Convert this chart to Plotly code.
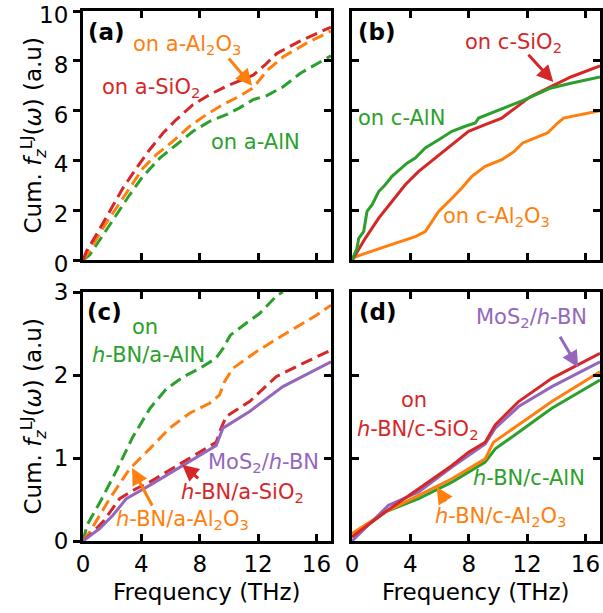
import plotly.graph_objects as go

# ---------------- data ----------------
# Panel (a): amorphous substrates (dashed)
a_sio2_f = [0, 0.23, 0.9, 1.83, 2.74, 3.66, 4.57, 5.49, 6.4, 7.54, 8.69, 9.83, 10.97, 11.66, 12.5, 13.3, 14.9, 16.0, 17.0]
a_sio2_v = [0, 0.34, 1.0, 1.95, 2.89, 3.69, 4.43, 5.1, 5.64, 6.24, 6.64, 6.98, 7.25, 7.42, 7.85, 8.3, 8.8, 9.1, 9.35]
a_al2o3_f = [0, 0.34, 1.37, 2.29, 3.2, 4.11, 5.03, 6.17, 7.31, 8.46, 9.6, 10.74, 11.66, 12.6, 13.7, 15.3, 17.0]
a_al2o3_v = [0, 0.27, 1.28, 2.08, 2.89, 3.69, 4.23, 4.77, 5.37, 5.84, 6.24, 6.58, 6.91, 7.6, 8.15, 8.7, 9.2]
a_aln_f = [0, 0.46, 1.37, 2.29, 3.2, 4.11, 5.26, 6.4, 7.54, 8.69, 9.83, 10.74, 11.66, 12.6, 13.7, 14.9, 17.0]
a_aln_v = [0, 0.2, 1.0, 1.81, 2.62, 3.36, 4.09, 4.63, 5.17, 5.57, 5.84, 6.11, 6.44, 6.6, 6.95, 7.5, 8.2]

# Panel (b): crystalline substrates (solid)
b_sio2_f = [0, 0.23, 0.91, 1.83, 2.74, 3.65, 4.57, 5.71, 6.85, 7.99, 9.13, 10.27, 11.3, 12.2, 13.6, 15.0, 17.0]
b_sio2_v = [0, 0.2, 0.87, 1.68, 2.35, 3.02, 3.56, 4.09, 4.63, 5.17, 5.44, 5.7, 6.15, 6.55, 6.95, 7.35, 7.8]
b_aln_f = [0, 0.34, 0.46, 0.8, 1.03, 1.37, 1.83, 2.28, 2.74, 3.42, 3.77, 4.34, 5.02, 5.94, 6.85, 7.76, 8.45, 8.68, 9.59, 10.27, 11.7, 13.6, 15.0, 17.0]
b_aln_v = [0, 0.47, 0.87, 1.14, 1.95, 2.21, 2.75, 3.02, 3.36, 3.69, 3.89, 4.09, 4.5, 4.83, 5.17, 5.37, 5.5, 5.7, 5.91, 6.04, 6.4, 6.9, 7.1, 7.35]
b_al2o3_f = [0, 0.23, 2.28, 4.34, 5.02, 5.48, 5.94, 6.85, 7.53, 8.22, 9.13, 10.27, 11.1, 11.7, 13.4, 14.1, 14.5, 17.0]
b_al2o3_v = [0, 0.13, 0.54, 0.94, 1.14, 1.54, 1.95, 2.48, 2.89, 3.36, 3.76, 4.03, 4.35, 4.7, 5.1, 5.5, 5.7, 6.0]

# Panel (c): MoS2 on h-BN on amorphous substrates
c_aln_f = [0, 0.3, 1.2, 2.3, 3.4, 4.6, 5.7, 6.9, 8.0, 9.1, 9.6, 10.1, 11.0, 12.1, 13.3, 13.7]
c_aln_v = [0, 0.2, 0.48, 0.85, 1.25, 1.6, 1.83, 1.98, 2.08, 2.2, 2.32, 2.48, 2.6, 2.74, 2.96, 3.0]
c_al2o3_f = [0, 0.46, 1.83, 3.2, 4.57, 5.94, 7.31, 8.68, 9.36, 9.7, 10.27, 11.87, 13.7, 16.0, 17.0]
c_al2o3_v = [0, 0.11, 0.51, 0.87, 1.11, 1.36, 1.54, 1.66, 1.76, 1.92, 2.08, 2.28, 2.48, 2.72, 2.84]
c_sio2_f = [0, 0.46, 1.37, 2.51, 3.42, 4.57, 5.71, 6.85, 7.99, 9.13, 9.47, 9.82, 11.42, 13.24, 14.84, 17.0]
c_sio2_v = [0, 0.07, 0.23, 0.51, 0.61, 0.71, 0.83, 0.95, 1.07, 1.19, 1.36, 1.5, 1.68, 1.98, 2.12, 2.3]
c_mos2_f = [0, 1.14, 2.05, 2.97, 4.57, 6.85, 9.13, 9.59, 11.42, 13.7, 17.0]
c_mos2_v = [0, 0.15, 0.31, 0.51, 0.67, 0.91, 1.15, 1.36, 1.56, 1.86, 2.16]

# Panel (d): MoS2 on h-BN on crystalline substrates
d_sio2_f = [0, 2.28, 4.57, 6.85, 7.99, 9.13, 9.82, 11.42, 13.7, 17.0]
d_sio2_v = [0.05, 0.35, 0.63, 0.91, 1.07, 1.19, 1.4, 1.68, 1.96, 2.26]
d_mos2_f = [0, 1.6, 2.5, 4.57, 6.85, 9.13, 9.82, 11.42, 13.7, 17.0]
d_mos2_v = [0, 0.28, 0.43, 0.59, 0.89, 1.17, 1.36, 1.62, 1.86, 2.16]
d_al2o3_f = [0, 2.28, 4.57, 6.85, 9.13, 9.7, 11.42, 13.7, 17.0]
d_al2o3_v = [0.09, 0.35, 0.55, 0.75, 0.99, 1.19, 1.4, 1.68, 2.04]
d_aln_f = [0, 2.28, 4.57, 6.85, 9.13, 9.82, 11.42, 13.7, 17.0]
d_aln_v = [0.05, 0.35, 0.51, 0.71, 0.95, 1.11, 1.31, 1.6, 1.94]

x_ticks = [0, 4, 8, 12, 16]
y_ticks_top = [0, 2, 4, 6, 8, 10]
y_ticks_bot = [0, 1, 2, 3]

RED = "#d62728"
ORANGE = "#ff7f0e"
GREEN = "#2ca02c"
PURPLE = "#9467bd"
FONT = "DejaVu Sans, Arial, sans-serif"
DASH = "12px,6px"
LW = 3

fig = go.Figure()

def add(xs, ys, color, dash, xa, ya):
    fig.add_trace(go.Scatter(x=xs, y=ys, mode="lines", xaxis=xa, yaxis=ya,
                             line=dict(color=color, width=LW, dash=dash),
                             showlegend=False, hoverinfo="skip"))

# panel a
add(a_aln_f, a_aln_v, GREEN, DASH, "x", "y")
add(a_al2o3_f, a_al2o3_v, ORANGE, DASH, "x", "y")
add(a_sio2_f, a_sio2_v, RED, DASH, "x", "y")
# panel b
add(b_al2o3_f, b_al2o3_v, ORANGE, "solid", "x2", "y2")
add(b_sio2_f, b_sio2_v, RED, "solid", "x2", "y2")
add(b_aln_f, b_aln_v, GREEN, "solid", "x2", "y2")
# panel c
add(c_aln_f, c_aln_v, GREEN, DASH, "x3", "y3")
add(c_al2o3_f, c_al2o3_v, ORANGE, DASH, "x3", "y3")
add(c_sio2_f, c_sio2_v, RED, DASH, "x3", "y3")
add(c_mos2_f, c_mos2_v, PURPLE, "solid", "x3", "y3")
# panel d
add(d_aln_f, d_aln_v, GREEN, "solid", "x4", "y4")
add(d_al2o3_f, d_al2o3_v, ORANGE, "solid", "x4", "y4")
add(d_mos2_f, d_mos2_v, PURPLE, "solid", "x4", "y4")
add(d_sio2_f, d_sio2_v, RED, "solid", "x4", "y4")
# dummy traces for right-side overlay axes
fig.add_trace(go.Scatter(x=[], y=[], xaxis="x", yaxis="y5", showlegend=False))
fig.add_trace(go.Scatter(x=[], y=[], xaxis="x3", yaxis="y6", showlegend=False))

W, H = 603, 613
colL = [83 / W, 331 / W]
colR = [352 / W, 600 / W]
rowT = [1 - 260 / H, 1 - 11 / H]
rowB = [1 - 541 / H, 1 - 292 / H]

tickfont = dict(family=FONT, size=23, color="black")

def xax(dom, anchor, labels):
    return dict(domain=dom, anchor=anchor, range=[0, 17], tickvals=x_ticks,
                ticks="inside", ticklen=7, tickwidth=2.5, tickcolor="black",
                showline=True, linewidth=3, linecolor="black", mirror="ticks",
                showgrid=False, zeroline=False, showticklabels=labels,
                tickfont=tickfont, fixedrange=True, automargin=False,
                ticklabeloverflow="allow")

def yax(dom, anchor, rng, tv, labels, shift=0):
    d = dict(domain=dom, anchor=anchor, range=rng, tickvals=tv,
             ticklen=7, tickwidth=2.5, tickcolor="black",
             showline=True, linewidth=3, linecolor="black",
             showgrid=False, zeroline=False, showticklabels=labels,
             tickfont=tickfont, fixedrange=True, automargin=False,
             ticklabeloverflow="allow", ticklabelshift=shift)
    if labels:
        d.update(ticks="outside", mirror=True)
    else:
        d.update(ticks="inside", mirror="ticks")
    return d

def yright(over, anchor, rng, tv):
    return dict(overlaying=over, anchor=anchor, side="right", range=rng, tickvals=tv,
                ticks="inside", ticklen=7, tickwidth=2.5, tickcolor="black",
                showline=False, showgrid=False, zeroline=False, showticklabels=False,
                fixedrange=True, automargin=False)

fig.update_layout(
    width=W, height=H, margin=dict(l=0, r=0, t=0, b=0, pad=0, autoexpand=False),
    paper_bgcolor="white", plot_bgcolor="white",
    font=dict(family=FONT, color="black"),
    xaxis=xax(colL, "y", False),
    yaxis=yax(rowT, "x", [0, 10], y_ticks_top, True, shift=4),
    xaxis2=xax(colR, "y2", False),
    yaxis2=yax(rowT, "x2", [0, 10], y_ticks_top, False),
    xaxis3=xax(colL, "y3", True),
    yaxis3=yax(rowB, "x3", [0, 3], y_ticks_bot, True),
    xaxis4=xax(colR, "y4", True),
    yaxis4=yax(rowB, "x4", [0, 3], y_ticks_bot, False),
    yaxis5=yright("y", "x", [0, 10], y_ticks_top),
    yaxis6=yright("y3", "x3", [0, 3], y_ticks_bot),
)

ann = []

def txt(text, x, y, xa, ya, color, size=21):
    ann.append(dict(text=text, x=x, y=y, xref=xa, yref=ya, showarrow=False,
                    font=dict(family=FONT, size=size, color=color),
                    xanchor="center", yanchor="middle"))

def arrow(x, y, ax, ay, xa, ya, color):
    ann.append(dict(text="", x=x, y=y, ax=ax, ay=ay, xref=xa, yref=ya,
                    axref=xa, ayref=ya, showarrow=True, arrowhead=2,
                    arrowsize=1.1, arrowwidth=3, arrowcolor=color))

# panel labels
txt("<b>(a)</b>", 1.6, 9.15, "x", "y", "black", 23)
txt("<b>(b)</b>", 1.7, 9.15, "x2", "y2", "black", 23)
txt("<b>(c)</b>", 1.45, 2.76, "x3", "y3", "black", 23)
txt("<b>(d)</b>", 1.8, 2.76, "x4", "y4", "black", 23)

# panel a
txt("on a-Al<sub>2</sub>O<sub>3</sub>", 7.1, 8.65, "x", "y", ORANGE)
arrow(11.6, 7.0, 9.9, 8.15, "x", "y", ORANGE)
txt("on a-SiO<sub>2</sub>", 4.66, 6.9, "x", "y", RED)
txt("on a-AlN", 11.8, 4.74, "x", "y", GREEN)

# panel b
txt("on c-SiO<sub>2</sub>", 11.1, 8.7, "x2", "y2", RED)
arrow(13.8, 7.15, 12.0, 8.3, "x2", "y2", RED)
txt("on c-AlN", 3.4, 5.7, "x2", "y2", GREEN)
txt("on c-Al<sub>2</sub>O<sub>3</sub>", 9.9, 1.73, "x2", "y2", ORANGE)

# panel c
txt("on", 4.25, 2.58, "x3", "y3", GREEN)
txt("<i>h</i>-BN/a-AlN", 4.5, 2.24, "x3", "y3", GREEN)
txt("MoS<sub>2</sub>/<i>h</i>-BN", 12.4, 0.94, "x3", "y3", PURPLE)
txt("<i>h</i>-BN/a-SiO<sub>2</sub>", 10.9, 0.58, "x3", "y3", RED)
arrow(6.8, 0.92, 8.0, 0.74, "x3", "y3", RED)
txt("<i>h</i>-BN/a-Al<sub>2</sub>O<sub>3</sub>", 6.8, 0.25, "x3", "y3", ORANGE)
arrow(3.36, 0.88, 4.8, 0.41, "x3", "y3", ORANGE)

# panel d
txt("MoS<sub>2</sub>/<i>h</i>-BN", 12.3, 2.69, "x4", "y4", PURPLE)
arrow(15.5, 2.09, 14.2, 2.48, "x4", "y4", PURPLE)
txt("on", 4.25, 1.70, "x4", "y4", RED)
txt("<i>h</i>-BN/c-SiO<sub>2</sub>", 4.5, 1.34, "x4", "y4", RED)
txt("<i>h</i>-BN/c-AlN", 12.1, 0.76, "x4", "y4", GREEN)
txt("<i>h</i>-BN/c-Al<sub>2</sub>O<sub>3</sub>", 10.2, 0.29, "x4", "y4", ORANGE)
arrow(5.8, 0.65, 6.5, 0.46, "x4", "y4", ORANGE)

# axis titles
ytitle = "Cum. <i>f</i><sub><i>z</i></sub><sup>LJ</sup>(<i>ω</i>) (a.u)"
for yc in [(rowT[0] + rowT[1]) / 2, (rowB[0] + rowB[1]) / 2]:
    ann.append(dict(text=ytitle, x=33 / W, y=yc, xref="paper", yref="paper",
                    textangle=-90, showarrow=False, xanchor="center", yanchor="middle",
                    font=dict(family=FONT, size=23, color="black")))
for xc in [(colL[0] + colL[1]) / 2, (colR[0] + colR[1]) / 2]:
    ann.append(dict(text="Frequency (THz)", x=xc, y=1 - 592 / H, xref="paper", yref="paper",
                    showarrow=False, xanchor="center", yanchor="middle",
                    font=dict(family=FONT, size=23, color="black")))

fig.update_layout(annotations=ann)
fig.write_html("out.html")
